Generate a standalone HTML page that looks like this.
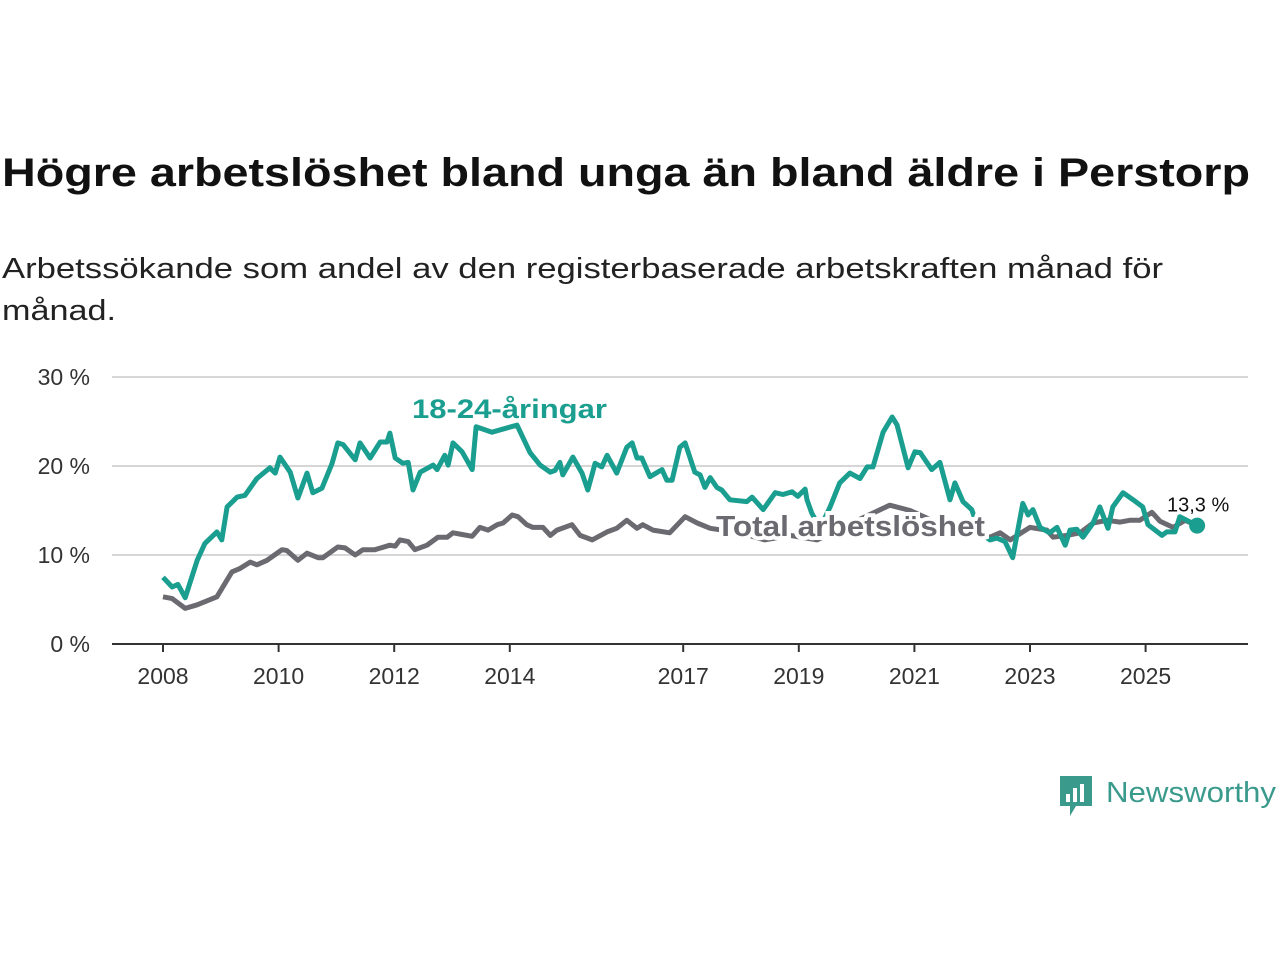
<!DOCTYPE html>
<html><head><meta charset="utf-8"><style>
body{margin:0;background:#fff;width:1280px;height:960px;overflow:hidden;font-family:"Liberation Sans",sans-serif}
</style></head><body>
<svg width="1280" height="960">
<text x="2" y="186" font-size="40" font-weight="bold" fill="#111" textLength="1248" lengthAdjust="spacingAndGlyphs">Högre arbetslöshet bland unga än bland äldre i Perstorp</text>
<text x="2" y="278" font-size="29" fill="#222" textLength="1161" lengthAdjust="spacingAndGlyphs">Arbetssökande som andel av den registerbaserade arbetskraften månad för</text>
<text x="2" y="320" font-size="29" fill="#222" textLength="114" lengthAdjust="spacingAndGlyphs">månad.</text>
<g id="grid"></g><g id="xaxis"></g><g id="lines"></g><g id="labels"></g>
<g>
<path d="M1060 776h32v30h-16l-6 10v-10h-10z" fill="#3a9a8c"/>
<rect x="1066" y="794" width="4" height="8" fill="#fff"/><rect x="1073" y="788" width="4" height="14" fill="#fff"/><rect x="1080" y="784" width="4" height="18" fill="#fff"/>
<text x="1106" y="802" font-size="29" fill="#3a9a8c" textLength="170" lengthAdjust="spacingAndGlyphs">Newsworthy</text>
</g>
</svg>
<script>
const yTicks=[0,10,20,30];
const yearTicks=[2008,2010,2012,2014,2017,2019,2021,2023,2025];
const youthMonths=[0,1.9,3.1,4.6,7.1,8.7,11.2,12.2,13.3,15.4,17.0,19.5,22.2,23.3,24.3,26.4,28.0,29.9,31.1,33.0,35.1,36.3,37.4,39.9,40.9,43.0,45.1,46.5,47.1,48.2,49.8,50.9,51.9,53.4,56.1,56.9,58.5,59.2,60.2,62.1,64.2,65.0,68.3,73.5,76.2,78.3,80.4,81.4,82.4,83.0,85.1,87.0,88.2,89.7,91.1,92.2,94.2,96.3,97.4,98.4,99.4,101.1,103.6,104.6,105.7,107.3,108.4,110.4,111.5,112.5,113.6,115.0,116.0,117.7,121.2,122.3,124.6,127.1,128.7,130.6,131.8,133.3,133.7,134.7,136.4,138.5,140.5,142.6,144.7,146.2,147.4,149.5,151.4,152.4,154.7,156.1,157.2,159.6,161.3,163.4,164.4,166.1,167.9,169.6,171.7,173.1,174.8,176.4,178.5,179.6,180.6,182.1,184.1,185.6,187.3,188.3,189.7,191.0,193.1,194.5,196.2,197.2,199.3,201.4,203.4,204.5,207.4,208.4,210.1,211.1,214.7];
const youthValues=[7.5,6.4,6.7,5.2,9.4,11.3,12.6,11.7,15.4,16.5,16.7,18.6,19.8,19.2,21.0,19.3,16.4,19.2,17.0,17.5,20.3,22.6,22.4,20.7,22.6,20.9,22.7,22.7,23.7,20.9,20.3,20.4,17.3,19.3,20.1,19.6,21.2,20.1,22.6,21.6,19.6,24.4,23.8,24.6,21.5,20.1,19.3,19.5,20.4,19.0,21.0,19.2,17.3,20.3,19.9,21.2,19.2,22.1,22.6,20.9,20.9,18.8,19.6,18.4,18.4,22.1,22.6,19.3,19.0,17.6,18.7,17.6,17.3,16.2,16.0,16.5,15.1,17.0,16.8,17.1,16.6,17.4,16.2,14.7,13.0,15.4,18.1,19.2,18.6,19.9,19.9,23.8,25.5,24.6,19.8,21.6,21.5,19.6,20.4,16.2,18.1,16.0,15.1,12.5,11.7,11.9,11.5,9.7,15.8,14.5,15.1,13.1,12.5,13.1,11.1,12.8,12.9,12.0,13.6,15.4,13.0,15.4,17.0,16.2,15.4,13.4,12.2,12.6,12.6,14.3,13.3];
const totalMonths=[0,1.9,4.6,7.1,11.2,14.3,16.0,18.1,19.5,21.6,24.7,25.7,28.0,29.9,32.2,33.2,36.3,37.8,39.9,41.5,44.0,47.1,48.2,49.2,50.9,52.3,54.8,57.1,59.0,60.2,62.1,64.2,65.8,67.5,69.4,70.6,72.5,73.7,75.5,76.8,78.9,80.4,81.8,84.9,86.6,89.1,92.2,94.2,96.3,98.4,99.6,101.7,105.2,108.4,110.9,113.6,119.8,124.9,130.2,135.8,142.6,150.9,155.1,161.3,167.5,171.7,173.8,175.9,178.5,180.0,183.5,184.8,187.7,190.4,193.1,196.0,198.7,200.7,202.8,205.3,207.0,209.7,212.2,214.7];
const totalValues=[5.3,5.1,4.0,4.4,5.3,8.1,8.5,9.2,8.9,9.4,10.6,10.5,9.4,10.2,9.7,9.7,10.9,10.8,10.0,10.6,10.6,11.1,11.0,11.7,11.5,10.6,11.1,12.0,12.0,12.5,12.3,12.1,13.1,12.8,13.4,13.6,14.5,14.3,13.4,13.1,13.1,12.2,12.8,13.4,12.2,11.7,12.6,13.0,13.9,13.0,13.4,12.8,12.5,14.3,13.6,13.0,12.5,11.7,12.2,11.7,13.5,15.6,15.0,13.5,12.5,12.0,12.5,11.7,12.6,13.1,12.8,12.0,12.2,12.5,13.6,13.9,13.7,13.9,13.9,14.8,13.8,13.1,13.9,13.3];
const lastLabel="13,3 %";
const NS="http://www.w3.org/2000/svg";
const X=m=>163+m*57.8/12, XY=y=>163+(y-2008)*57.8, Y=v=>644-v*8.9;
function mk(t,a,p){const e=document.createElementNS(NS,t);for(const k in a)e.setAttribute(k,a[k]);p.appendChild(e);return e;}
const grid=document.getElementById('grid');
yTicks.forEach(v=>{
 const l=mk('line',{x1:112,x2:1248,y1:Y(v),y2:Y(v),stroke:v===0?'#333':'#d6d6d6','stroke-width':2},grid);
 
 
 const t=mk('text',{x:90,y:Y(v)+8,'font-size':23,'text-anchor':'end',fill:'#333'},grid);t.textContent=v+' %';
 
 
});
const xa=document.getElementById('xaxis');
yearTicks.forEach(yr=>{
 const l=mk('line',{x1:XY(yr),x2:XY(yr),y1:644,y2:652,stroke:'#333','stroke-width':2},xa);
 
 
 const t=mk('text',{x:XY(yr),y:684,'font-size':23,'text-anchor':'middle',fill:'#333'},xa);t.textContent=yr;
 
 
});
const g=document.getElementById('lines');
function path(ms,vs){return ms.map((m,i)=>(i?'L':'M')+X(m).toFixed(1)+' '+Y(vs[i]).toFixed(1)).join('');}
const pt=mk('path',{d:path(totalMonths,totalValues),fill:'none',stroke:'#6b6a70','stroke-width':5,'stroke-linejoin':'round'},g);


const py=mk('path',{d:path(youthMonths,youthValues),fill:'none',stroke:'#1a9e8f','stroke-width':5,'stroke-linejoin':'round'},g);


const n=youthMonths.length-1;
const dot=mk('circle',{cx:X(youthMonths[n]),cy:Y(youthValues[n]),r:8,fill:'#1a9e8f'},g);


const lb=document.getElementById('labels');
const lv=mk('text',{x:X(youthMonths[n])+1,y:Y(youthValues[n])-14,'font-size':20,'text-anchor':'middle',fill:'#111'},lb);lv.textContent=lastLabel;


const l1=mk('text',{x:412,y:418,'font-size':27,'font-weight':'bold',fill:'#1a9e8f',stroke:'#fff','stroke-width':8,'paint-order':'stroke',textLength:195,lengthAdjust:'spacingAndGlyphs'},lb);l1.textContent='18-24-åringar';


const l2=mk('text',{x:716,y:536,'font-size':29,'font-weight':'bold',fill:'#6b6a70',stroke:'#fff','stroke-width':8,'paint-order':'stroke',textLength:269,lengthAdjust:'spacingAndGlyphs'},lb);l2.textContent='Total arbetslöshet';


</script>
</body></html>
